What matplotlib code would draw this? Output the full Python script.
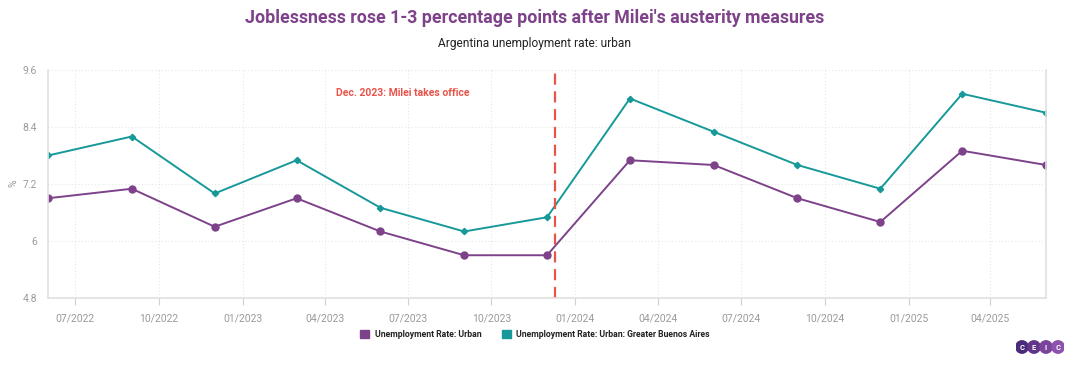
import pandas as pd
import matplotlib.pyplot as plt
import matplotlib.dates as mdates
from matplotlib.patches import Circle

'''Argentina unemployment chart'''

# quarterly observations (plotted at the first day of the quarter's last month)
dates = pd.to_datetime(['2022-06-01', '2022-09-01', '2022-12-01', '2023-03-01', '2023-06-01',
                        '2023-09-01', '2023-12-01', '2024-03-01', '2024-06-01', '2024-09-01',
                        '2024-12-01', '2025-03-01', '2025-06-01'])
urban = [6.9, 7.1, 6.3, 6.9, 6.2, 5.7, 5.7, 7.7, 7.6, 6.9, 6.4, 7.9, 7.6]
gba = [7.8, 8.2, 7.0, 7.7, 6.7, 6.2, 6.5, 9.0, 8.3, 7.6, 7.1, 9.1, 8.7]
y_ticks = [4.8, 6, 7.2, 8.4, 9.6]
milei_date = pd.Timestamp('2023-12-10')

purple = '#7d4289'
teal = '#17999a'
red = '#e8534a'
grey = '#9a9a9a'

plt.rcParams['font.family'] = ['Roboto', 'DejaVu Sans']

fig = plt.figure(figsize=(10.7, 3.65), dpi=100)
ax = fig.add_axes([0.0449, 0.1836, 0.9327, 0.6246])

ax.plot(dates, urban, color=purple, lw=1.4, marker='o', ms=5, label='Unemployment Rate: Urban')
ax.plot(dates, gba, color=teal, lw=1.4, marker='D', ms=3.2, label='Unemployment Rate: Urban: Greater Buenos Aires')

# Milei takes office
ax.axvline(milei_date, color=red, lw=1.6, ls=(0, (5, 3)))
ax.text(pd.Timestamp('2023-04-13'), 9.12, 'Dec. 2023: Milei takes office', color=red,
        fontsize=7.5, fontweight='bold', ha='left', va='center')

ax.set_xlim(dates[0], dates[-1])
ax.set_ylim(4.8, 9.6)
ax.set_yticks(y_ticks)
ax.set_yticklabels(['4.8', '6', '7.2', '8.4', '9.6'])
ax.xaxis.set_major_locator(mdates.MonthLocator(bymonth=[1, 4, 7, 10]))
ax.xaxis.set_major_formatter(mdates.DateFormatter('%m/%Y'))

ax.grid(True, color='#e6e6e6', ls=(0, (1, 2)), lw=0.8)
ax.set_axisbelow(True)
ax.tick_params(axis='both', colors='#d0d0d0', labelcolor=grey, labelsize=7.5)
ax.tick_params(axis='y', length=0, pad=8)
ax.tick_params(axis='x', length=5, pad=6)
for side in ['left', 'bottom', 'right']:
    ax.spines[side].set_color('#e0e0e0')
    ax.spines[side].set_linewidth(1.2)
ax.spines['top'].set_visible(False)
fig.text(0.013, 0.498, '%', color=grey, fontsize=7.5, rotation=90, ha='center', va='center')

# titles
fig.text(0.5, 0.95, "Joblessness rose 1-3 percentage points after Milei's austerity measures",
         ha='center', va='center', fontsize=12.8, fontweight='bold', color=purple)
fig.text(0.5, 0.882, 'Argentina unemployment rate: urban', ha='center', va='center',
         fontsize=8.6, color='#222222')

# legend
leg = fig.legend(loc='center', bbox_to_anchor=(0.5, 0.084), ncol=2, frameon=False,
                 fontsize=6.2, handlelength=1.1, handleheight=1.1, handletextpad=0.6,
                 columnspacing=2.4,
                 handles=[plt.Rectangle((0, 0), 1, 1, color=purple),
                          plt.Rectangle((0, 0), 1, 1, color=teal)],
                 labels=['Unemployment Rate: Urban', 'Unemployment Rate: Urban: Greater Buenos Aires'])
for t in leg.get_texts():
    t.set_fontweight('bold')
    t.set_color('#222222')

# CEIC logo
lax = fig.add_axes([1016 / 1070, 6 / 365, 48 / 1070, 24 / 365])
lax.set_xlim(0, 48)
lax.set_ylim(0, 24)
lax.axis('off')
for i, letter in enumerate('CEIC'):
    cx = 6 + i * 12
    lax.add_patch(Circle((cx, 12), 6.2, color=['#4a2a7a', '#62358a', '#7a449c', '#8d52ab'][i]))
    lax.text(cx, 12, letter, ha='center', va='center', fontsize=5.5,
             fontweight='bold', color='white')

plt.savefig('out.png', dpi=100)
